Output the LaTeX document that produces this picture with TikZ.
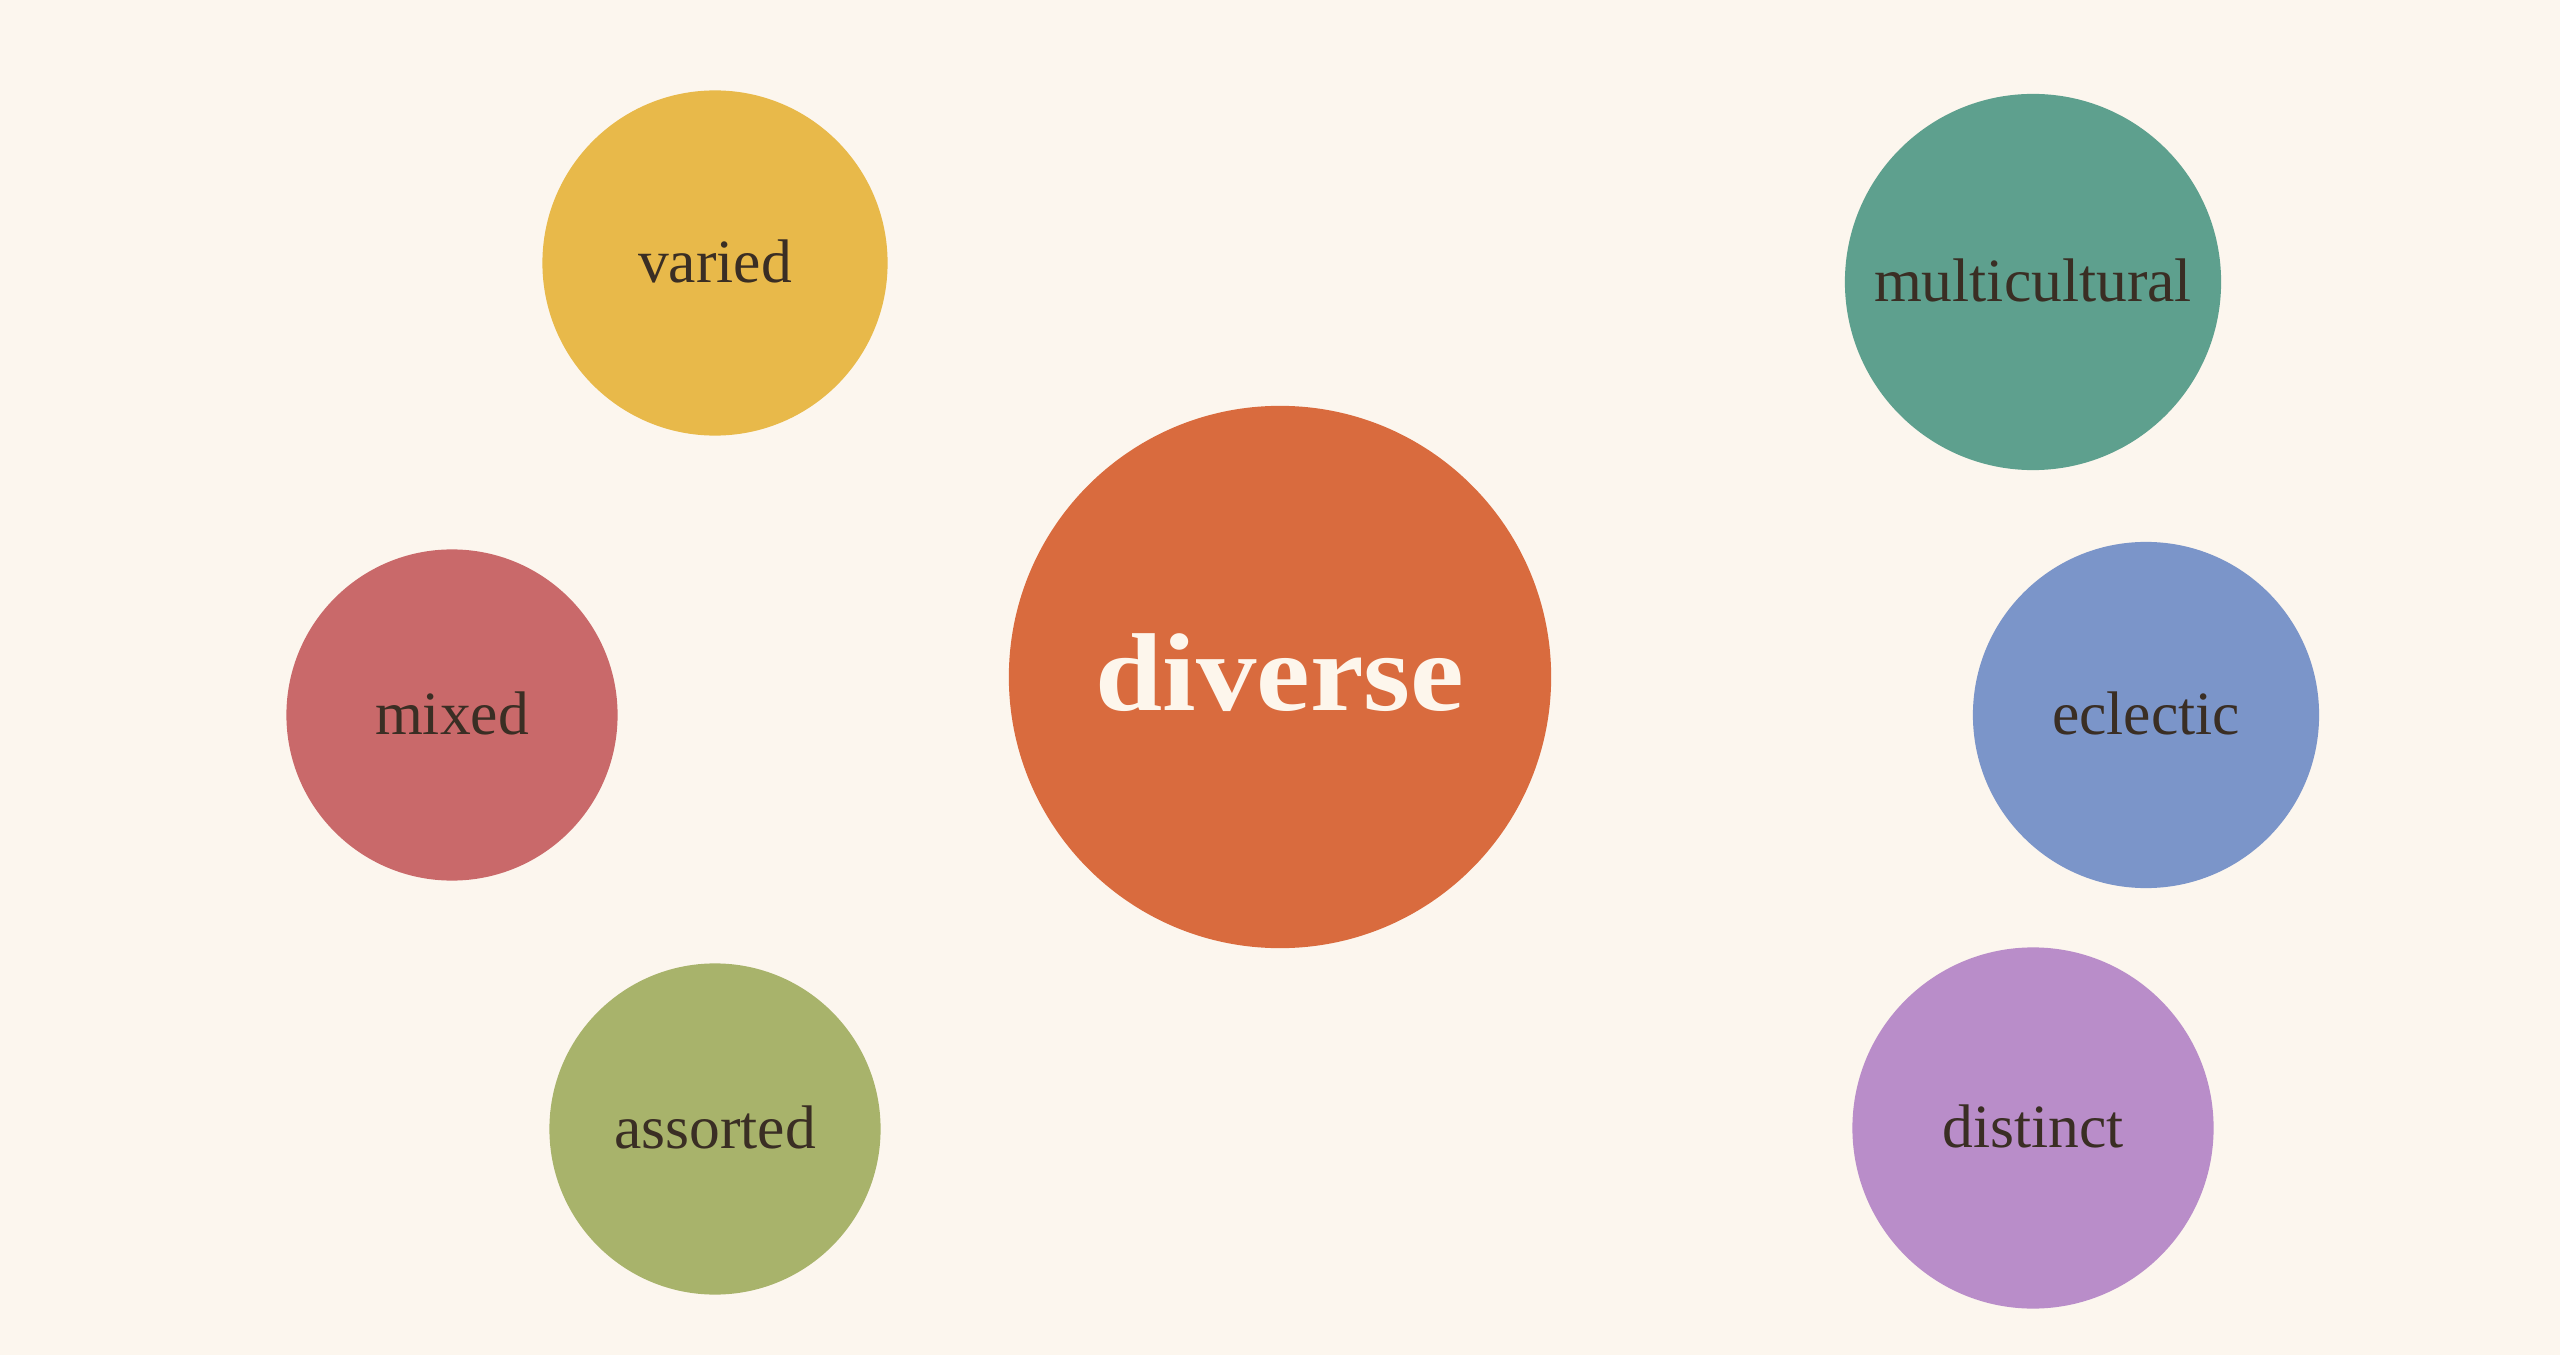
\documentclass[tikz,border=0pt]{standalone}
\usepackage{fontspec}
\setmainfont{Liberation Serif}
\definecolor{bgc}{HTML}{FCF6EE}
\definecolor{cvaried}{HTML}{E8B94A}
\definecolor{cmulti}{HTML}{5EA08E}
\definecolor{cdiverse}{HTML}{D96B3E}
\definecolor{cmixed}{HTML}{C9696A}
\definecolor{ceclectic}{HTML}{7B95C9}
\definecolor{cassorted}{HTML}{A8B36B}
\definecolor{cdistinct}{HTML}{B98DC9}
\definecolor{inkc}{HTML}{3A2E24}
\definecolor{lightink}{HTML}{FDF6EC}
\newcommand\bubblefont{\fontsize{17.5}{20}\selectfont}
\newcommand\herofont{\fontsize{31.5}{35}\selectfont\bfseries}
\tikzset{
  bubble/.style={circle, inner sep=0pt, draw=none, text=inkc, font=\bubblefont,
    text height=0.38cm, text depth=0pt},
  hero/.style={circle, inner sep=0pt, draw=none, text=lightink, font=\herofont,
    text height=0.66cm, text depth=0pt}
}
\begin{document}
\begin{tikzpicture}[x=0.01cm, y=-0.01cm]
\fill[bgc] (0,0) rectangle (2560,1355);
\useasboundingbox (0,0) rectangle (2560,1355);
\node[hero, fill=cdiverse, minimum size=5.42cm] (diverse) at (1280,677) {\scalebox{1.09}[1]{diverse}};
\node[bubble, fill=cvaried, minimum size=3.45cm] (varied) at (715,263) {varied};
\node[bubble, fill=cmulti, minimum size=3.76cm] (multicultural) at (2033,282) {multicultural};
\node[bubble, fill=cmixed, minimum size=3.31cm] (mixed) at (452,715) {mixed};
\node[bubble, fill=ceclectic, minimum size=3.46cm] (eclectic) at (2146,715) {eclectic};
\node[bubble, fill=cassorted, minimum size=3.31cm] (assorted) at (715,1129) {assorted};
\node[bubble, fill=cdistinct, minimum size=3.61cm] (distinct) at (2033,1128) {distinct};
\end{tikzpicture}
\end{document}
